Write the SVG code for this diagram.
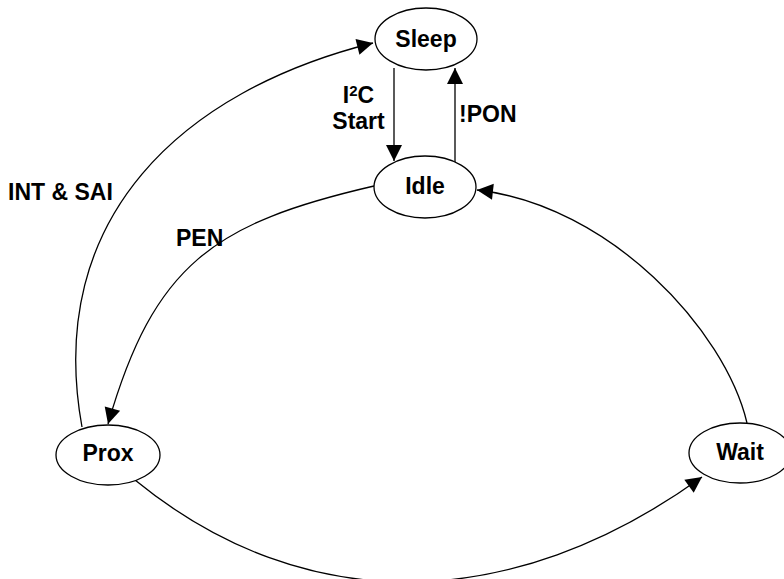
<svg xmlns="http://www.w3.org/2000/svg" width="784" height="579" viewBox="0 0 784 579">
<defs>
<marker id="arr" markerUnits="userSpaceOnUse" markerWidth="16" markerHeight="16" refX="16" refY="8" orient="auto" overflow="visible">
<path d="M0,0 L16,8 L0,16 z" fill="#000"/>
</marker>
<style>
.node ellipse{fill:#fff;stroke:#000;stroke-width:1.3}
.node text,.lbl{font-family:"Liberation Sans",Arial,Helvetica,sans-serif;font-weight:bold;font-size:23px;fill:#000}
.node text{text-anchor:middle}
.edge{fill:none;stroke:#000;stroke-width:1.3;marker-end:url(#arr)}
</style>
</defs>
<rect width="784" height="579" fill="#fff"/>
<g id="connectors">
<path class="edge" d="M394,68 L394,161"/>
<path class="edge" d="M455,163 L455,68"/>
<path class="edge" d="M747,423 C725,330 610,205 477,190"/>
<path class="edge" d="M374,186 C214,223 154,264 108,424"/>
<path class="edge" d="M82,427 C44,217 183,90.5 373,43"/>
<path class="edge" d="M135,480 C305,619 512,614 702,477"/>
</g>
<g id="labels">
<text class="lbl" x="358.5" y="103" text-anchor="middle">I<tspan font-size="15" dy="-7">2</tspan><tspan dy="7">C</tspan></text>
<text class="lbl" x="358.5" y="129" text-anchor="middle">Start</text>
<text class="lbl" x="459" y="122">!PON</text>
<text class="lbl" x="8" y="200">INT &amp; SAI</text>
<text class="lbl" x="176" y="246">PEN</text>
</g>
<g id="sleep" class="node"><ellipse cx="426" cy="39" rx="51" ry="31"/><text x="426" y="47">Sleep</text></g>
<g id="idle" class="node"><ellipse cx="425" cy="187" rx="51" ry="31"/><text x="425" y="194">Idle</text></g>
<g id="prox" class="node"><ellipse cx="108" cy="455" rx="52" ry="30"/><text x="108" y="461">Prox</text></g>
<g id="wait" class="node"><ellipse cx="740" cy="453" rx="51" ry="30"/><text x="740" y="460">Wait</text></g>
</svg>
